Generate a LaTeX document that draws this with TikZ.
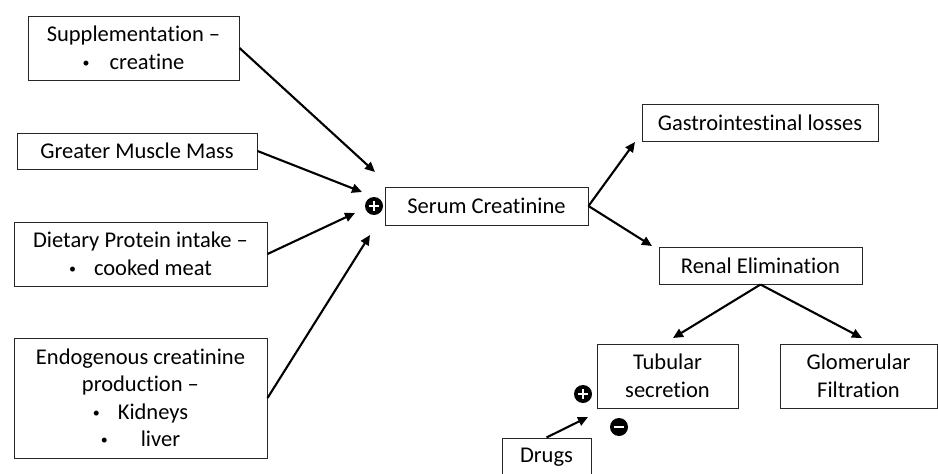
\documentclass[tikz,border=0pt]{standalone}
\usepackage{fontspec}
\setmainfont{Carlito}[RawFeature=-liga]
\usetikzlibrary{arrows.meta}
\newcommand{\mybul}{\raisebox{2pt}{\fontsize{14}{14}\selectfont •}}
\begin{document}
\begin{tikzpicture}[x=1pt,y=-1pt,
  box/.style={draw=black!85, line width=1pt, inner sep=0pt, align=center,
    font=\fontsize{22.5}{27.5}\selectfont, anchor=center},
  arr/.style={line width=2.1pt, -{Triangle[length=10pt,width=9pt]}},
  sign/.style={circle, fill=black, minimum size=18pt, inner sep=0pt},
  plussign/.style={sign, path picture={
    \fill[white] (path picture bounding box.center) ++(-5pt,-1.4pt) rectangle ++(10pt,2.8pt);
    \fill[white] (path picture bounding box.center) ++(-1.4pt,-5pt) rectangle ++(2.8pt,10pt);}},
  minussign/.style={sign, path picture={
    \fill[white] (path picture bounding box.center) ++(-5pt,-1.4pt) rectangle ++(10pt,2.8pt);}}]
\useasboundingbox (0,0) rectangle (938,474);
\clip (0,0) rectangle (938,474);

\node[box, minimum width=211pt, minimum height=64pt] (supp) at (133.5,48)
  {Supplementation --\\ \mybul\hspace{20pt}creatine};
\node[box, minimum width=240pt, minimum height=36pt] (greater) at (137,151)
  {Greater Muscle Mass};
\node[box, minimum width=253pt, minimum height=64pt] (diet) at (140.5,254)
  {Dietary Protein intake --\\ \mybul\hspace{18pt}cooked meat};
\node[box, minimum width=253pt, minimum height=120pt] (endo) at (140.5,398)
  {Endogenous creatinine\\ production --\\ \mybul\hspace{18pt}Kidneys\\ \mybul\hspace{33pt}liver\hspace{12pt}};
\node[box, minimum width=203pt, minimum height=38pt] (serum) at (486.5,206)
  {Serum Creatinine};
\node[box, minimum width=236pt, minimum height=37pt] (gi) at (760,122.5)
  {Gastrointestinal losses};
\node[box, minimum width=203pt, minimum height=37pt] (renal) at (760.5,265.5)
  {Renal Elimination};
\node[box, minimum width=141pt, minimum height=64pt] (tub) at (667.5,376)
  {Tubular\\ secretion};
\node[box, minimum width=157pt, minimum height=64pt] (glom) at (858.5,376)
  {Glomerular\\ Filtration};
\node[box, minimum width=89pt, minimum height=38pt] (drugs) at (546.5,457)
  {Drugs};

\node[plussign] (s1) at (374,206) {};
\node[plussign] (s2) at (583,394) {};
\node[minussign] (s3) at (619,427) {};

\coordinate (e1) at (375,172);
\coordinate (e2) at (362,192);
\coordinate (e3) at (355,213);
\coordinate (e4) at (370,235);
\coordinate (e5) at (635,142);
\coordinate (e6) at (652,246);
\coordinate (e7) at (673,338);
\coordinate (e8) at (862,338);
\coordinate (e9) at (588,417);

\draw[arr] (supp.east) -- (e1);
\draw[arr] (greater.east) -- (e2);
\draw[arr] (diet.east) -- (e3);
\draw[arr] (endo.east) -- (e4);
\draw[arr] (serum.east) -- (e5);
\draw[arr] (serum.east) -- (e6);
\draw[arr] (renal.south) -- (e7);
\draw[arr] (renal.south) -- (e8);
\draw[arr] (drugs.north) -- (e9);
\end{tikzpicture}
\end{document}
